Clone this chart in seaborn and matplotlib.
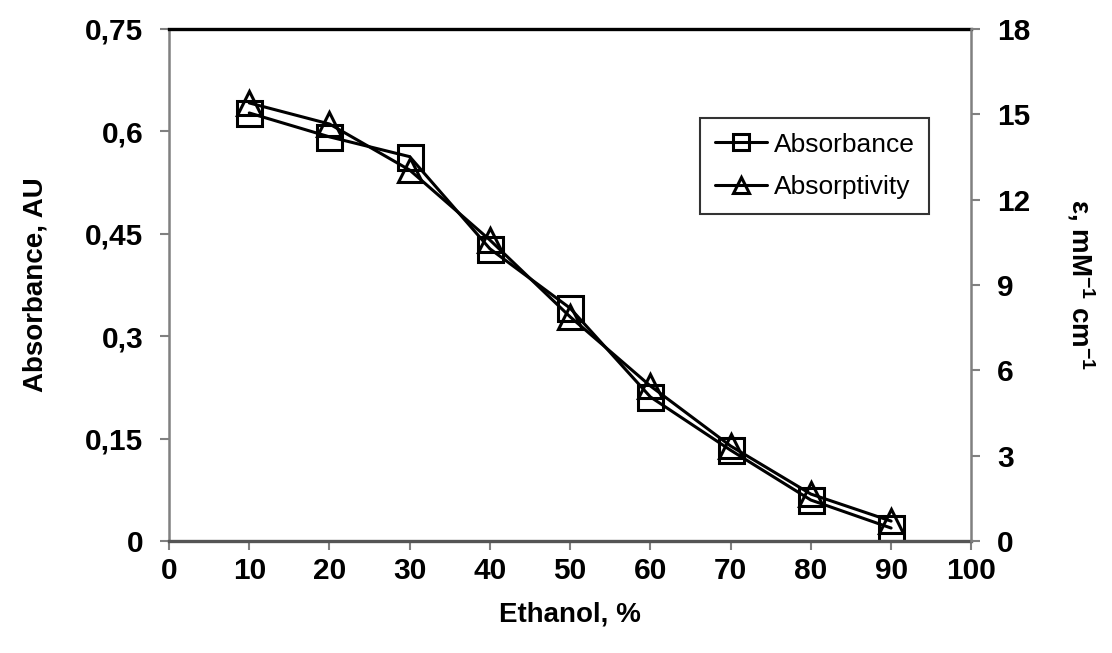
import numpy as np
import pandas as pd
import matplotlib
matplotlib.use('Agg')
import matplotlib.pyplot as plt
import seaborn as sns

sns.set_style('white')
plt.rcParams['font.family'] = ['Liberation Sans', 'DejaVu Sans']
plt.rcParams['text.color'] = 'black'
plt.rcParams['xtick.labelcolor'] = 'black'
plt.rcParams['ytick.labelcolor'] = 'black'
plt.rcParams['axes.labelcolor'] = 'black'
plt.rcParams['mathtext.fontset'] = 'custom'
plt.rcParams['mathtext.rm'] = 'Liberation Sans:bold'
plt.rcParams['mathtext.bf'] = 'Liberation Sans:bold'
plt.rcParams['mathtext.default'] = 'bf'

# data
ethanol = [10, 20, 30, 40, 50, 60, 70, 80, 90]
absorbance = [0.627, 0.592, 0.563, 0.428, 0.341, 0.211, 0.133, 0.060, 0.019]
absorptivity = [15.4, 14.66, 13.04, 10.58, 7.88, 5.45, 3.34, 1.65, 0.70]
x_ticks = [0, 10, 20, 30, 40, 50, 60, 70, 80, 90, 100]
y_ticks = [0, 0.15, 0.3, 0.45, 0.6, 0.75]
y_ticklabels = ['0', '0,15', '0,3', '0,45', '0,6', '0,75']
y2_ticks = [0, 3, 6, 9, 12, 15, 18]

df = pd.DataFrame({'ethanol': ethanol, 'absorbance': absorbance, 'absorptivity': absorptivity})

fig = plt.figure(figsize=(11.12, 6.53), dpi=100)
ax = fig.add_axes([0.152, 0.1715, 0.7215, 0.7841])
ax2 = ax.twinx()

sns.lineplot(data=df, x='ethanol', y='absorbance', ax=ax, color='black', lw=2.2,
             marker='s', markersize=18, markerfacecolor='none', markeredgecolor='black',
             markeredgewidth=2.2, label='Absorbance', legend=False)
sns.lineplot(data=df, x='ethanol', y='absorptivity', ax=ax2, color='black', lw=2.2,
             marker='^', markersize=17, markerfacecolor='none', markeredgecolor='black',
             markeredgewidth=2.2, label='Absorptivity', legend=False)

ax.set_xlim(0, 100)
ax.set_ylim(0, 0.75)
ax2.set_ylim(0, 18)
ax.set_xticks(x_ticks)
ax.set_yticks(y_ticks)
ax.set_yticklabels(y_ticklabels)
ax2.set_yticks(y2_ticks)

for a in (ax, ax2):
    for s in a.spines.values():
        s.set_visible(False)
ax.spines['left'].set_visible(True)
ax.spines['left'].set_color('#808080')
ax.spines['left'].set_linewidth(1.8)
ax.spines['bottom'].set_visible(True)
ax.spines['bottom'].set_color('#555555')
ax.spines['bottom'].set_linewidth(2.4)
ax.spines['top'].set_visible(True)
ax.spines['top'].set_color('black')
ax.spines['top'].set_linewidth(2.4)
ax2.spines['right'].set_visible(True)
ax2.spines['right'].set_color('#808080')
ax2.spines['right'].set_linewidth(1.8)

ax.tick_params(axis='x', direction='out', length=6.5, width=1.5, color='#808080',
               labelsize=21.5, pad=5, bottom=True, labelcolor='black')
ax.tick_params(axis='y', direction='out', length=6.5, width=1.5, color='#808080',
               labelsize=21.5, pad=12, left=True, labelcolor='black')
ax2.tick_params(axis='y', direction='out', length=6.5, width=1.5, color='#808080',
                labelsize=21.5, pad=12, right=True, labelcolor='black')
for lbl in ax.get_xticklabels() + ax.get_yticklabels() + ax2.get_yticklabels():
    lbl.set_fontweight('bold')

ax.set_xlabel('Ethanol, %', fontsize=20, fontweight='bold', labelpad=12)
ax.set_ylabel('Absorbance, AU', fontsize=20, fontweight='bold', labelpad=26)
ax2.set_ylabel(r'ε, mM$^{-1}$ cm$^{-1}$', fontsize=20, fontweight='bold',
               rotation=270, labelpad=48)

h1, l1 = ax.get_legend_handles_labels()
h2, l2 = ax2.get_legend_handles_labels()
leg = ax2.legend(h1 + h2, l1 + l2, loc='upper left', bbox_to_anchor=(0.662, 0.826),
                 borderaxespad=0, fontsize=19, frameon=True, fancybox=False,
                 edgecolor='black', handlelength=2.0, handletextpad=0.25,
                 labelspacing=0.7, borderpad=0.55, markerscale=0.66)
leg.get_frame().set_linewidth(1.5)

fig.savefig('out.png', dpi=100, facecolor='white')
